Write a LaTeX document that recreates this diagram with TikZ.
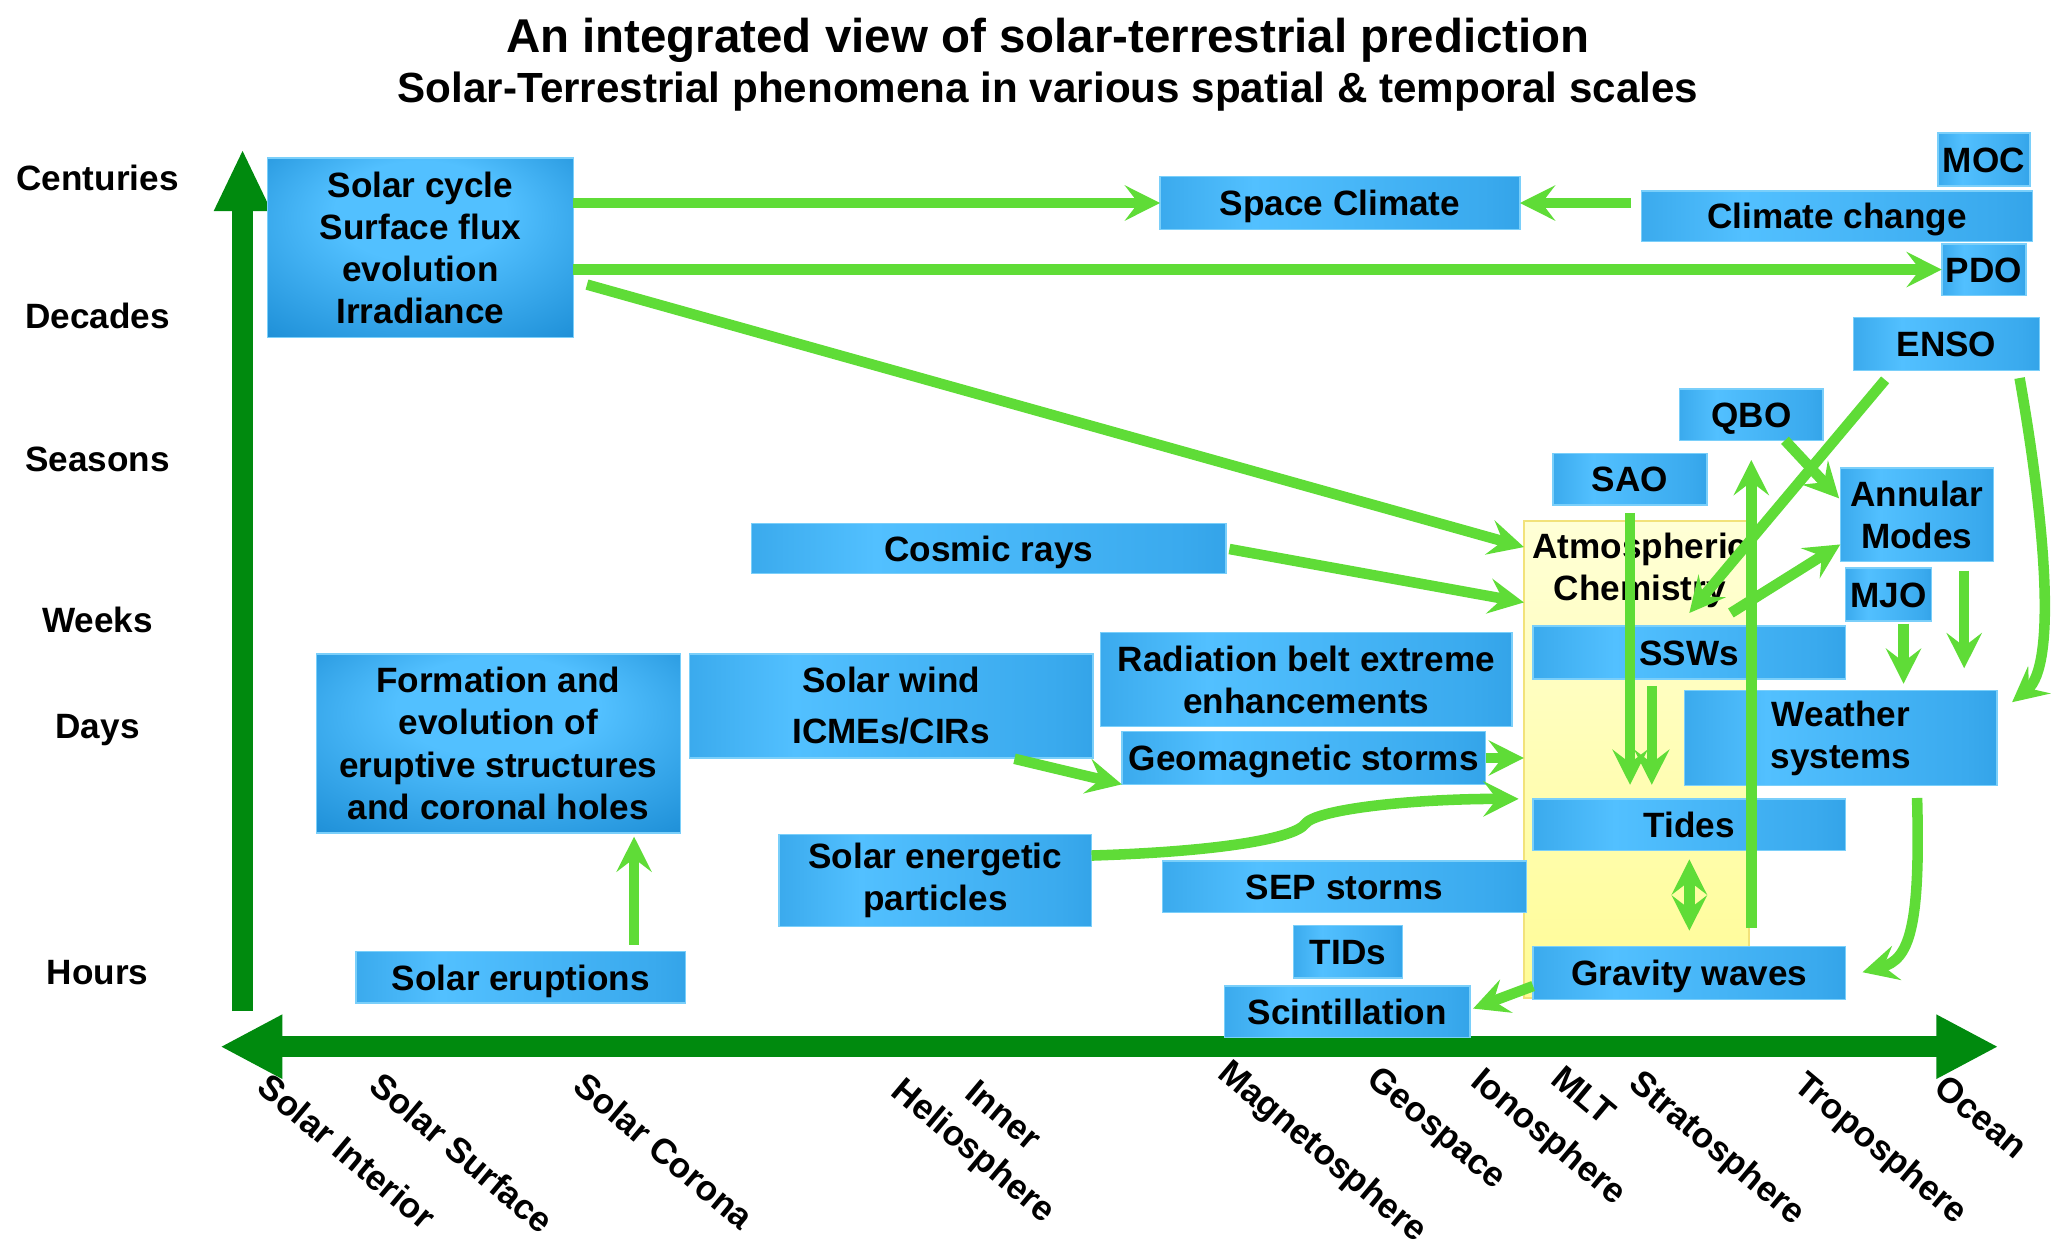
\documentclass[tikz,border=0pt]{standalone}
\usepackage{fontspec}
\setmainfont{Liberation Sans}
\usepackage{xcolor}
\usepackage{tikz}
\usetikzlibrary{calc,arrows.meta}
\definecolor{bdark}{HTML}{0872BA}
\definecolor{bmid}{HTML}{2394DB}
\definecolor{bsoft}{HTML}{3AAAEE}
\definecolor{blight}{HTML}{52C0FF}
\definecolor{bedge}{HTML}{7ACFFA}
\definecolor{lgreen}{HTML}{5FDC37}
\definecolor{dgreen}{HTML}{008A0E}
\definecolor{chemtop}{HTML}{FFFFD6}
\definecolor{chembot}{HTML}{FFFC96}
\definecolor{chemedge}{HTML}{F2E27A}
\pgfdeclarehorizontalshading{blkshade}{100bp}{color(0bp)=(bdark); color(12bp)=(bmid); color(38bp)=(blight); color(70bp)=(bsoft); color(88bp)=(bmid); color(100bp)=(bdark)}
\pgfdeclareradialshading{blkdisc}{\pgfpoint{0bp}{14bp}}{color(0bp)=(blight); color(14bp)=(blight); color(36bp)=(bmid); color(52bp)=(bdark)}
\tikzset{
  blk/.style={shade, shading=blkshade, draw=bedge, line width=0.4pt, inner sep=0pt, outer sep=0pt, align=center, font=\bfseries, text=black},
  blkr/.style={blk, shading=blkdisc},
  one/.style={text height=7.2pt, text depth=0pt},
  sz/.style 2 args={minimum width=#1*0.375pt, minimum height=#2*0.375pt},
  chem/.style={top color=chemtop, bottom color=chembot, draw=chemedge, line width=0.5pt, inner sep=0pt, outer sep=0pt},
  flow/.style={draw=lgreen, line width=3pt, -{Stealth[length=10pt,width=10pt,inset=3.8pt]}},
  both/.style={{Stealth[length=10pt,width=10pt,inset=3.8pt]}-{Stealth[length=10pt,width=10pt,inset=3.8pt]}},
  axisline/.style={draw=dgreen, line width=6pt},
  lab/.style={font=\bfseries, text=black, inner sep=0pt},
  region/.style={lab, rotate=-40, anchor=north west},
}

\begin{document}
\begin{tikzpicture}[x=0.375pt, y=-0.375pt]
  \useasboundingbox (0,0) rectangle (1568,953);
  \node[lab, font=\fontsize{13.5}{16}\selectfont\bfseries, anchor=base] (title) at (795,39.5) {An integrated view of solar-terrestrial prediction};
  \node[lab, font=\fontsize{12}{14}\selectfont\bfseries, anchor=base] (subtitle) at (795,77.6) {Solar-Terrestrial phenomena in various spatial \& temporal scales};

  \foreach \t/\y [count=\i] in {Centuries/144.5, Decades/249.5, Seasons/357.5, Weeks/479.5, Days/560.5, Hours/747}
    \node[lab, anchor=base] (tscale\i) at (74,\y) {\t};
  \foreach \t/\x/\y [count=\i] in {Solar Interior/206/812, Solar Surface/291/811, Solar Corona/446/811, Magnetosphere/935/801, Geospace/1048/806, Ionosphere/1127/807, MLT/1187/806, Stratosphere/1247/809, Troposphere/1372/810, Ocean/1478/813}
    \node[region] (region\i) at (\x,\y) {\t};
  \node[region, align=center, font=\fontsize{10}{13}\selectfont\bfseries] (inner) at (709,789) {Inner\\Heliosphere};

  \coordinate (ybot) at (184,767);
  \coordinate (ytop) at (184,113);
  \coordinate (xleft) at (167,794);
  \coordinate (xright) at (1516,794);
  \draw[axisline, -{Triangle[length=17.7pt,width=15pt]}] (ybot) -- (ytop);
  \draw[axisline, {Triangle[length=17.7pt,width=17pt]}-{Triangle[length=17.7pt,width=17pt]}] (xleft) -- (xright);

  \node[chem, sz={171}{362}] (atmchem) at (1241.5,576) {};
  \node[lab, align=center] (chemlabel) at (1244,433) {Atmospheric\\Chemistry};

  \node[blkr, sz={232}{136}] (solarcycle) at (319,188) {Solar cycle\\Surface flux\\evolution\\Irradiance};
  \node[blk, one, sz={273}{40}] (spaceclimate) at (1016.5,154) {Space Climate};
  \node[blk, one, sz={70}{40}] (moc) at (1505,121) {MOC};
  \node[blk, one, sz={297}{38}] (climatechange) at (1393.5,164) {Climate change};
  \node[blk, one, sz={64}{39}] (pdo) at (1505,204.5) {PDO};
  \node[blk, one, sz={141}{40}] (enso) at (1476.5,261) {ENSO};
  \node[blk, one, sz={109}{39}] (qbo) at (1328.5,314.5) {QBO};
  \node[blk, one, sz={117}{39}] (sao) at (1236.5,363.5) {SAO};
  \node[blk, sz={116}{71}] (annular) at (1454,390.5) {Annular\\Modes};
  \node[blk, one, sz={65}{40}] (mjo) at (1432.5,451) {MJO};
  \node[blk, one, sz={360}{38}] (cosmic) at (750,416) {Cosmic rays};
  \node[blk, one, sz={237}{40}] (ssws) at (1281.5,495) {SSWs};
  \node[blkr, sz={276}{136}] (formation) at (378,564) {Formation and\\evolution of\\eruptive structures\\and coronal holes};
  \node[blk, sz={306}{79}] (solarwind) at (676,535.5) {Solar wind\\[2.6pt]ICMEs/CIRs};
  \node[blk, sz={312}{71}] (radbelt) at (991,515.5) {Radiation belt extreme\\enhancements};
  \node[blk, one, sz={276}{40}] (geomag) at (989,575) {Geomagnetic storms};
  \node[blk, sz={237}{70}] (spe) at (709.5,668) {Solar energetic\\particles};
  \node[blk, one, sz={276}{39}] (sepstorms) at (1020,672.5) {SEP storms};
  \node[blk, one, sz={83}{40}] (tids) at (1022.5,722) {TIDs};
  \node[blk, one, sz={186}{39}] (scint) at (1022,767.5) {Scintillation};
  \node[blk, sz={237}{72}] (weather) at (1396.5,560) {Weather\\systems};
  \node[blk, one, sz={237}{39}] (tides) at (1281.5,625.5) {Tides};
  \node[blk, one, sz={237}{40}] (gravity) at (1281.5,738) {Gravity waves};
  \node[blk, one, sz={250}{39}] (eruptions) at (395,741.5) {Solar eruptions};

  \draw[flow] (solarcycle.east |- spaceclimate.west) -- (spaceclimate.west);
  \draw[flow, shorten <=3pt] (climatechange.west |- spaceclimate.east) -- (spaceclimate.east);
  \draw[flow] (solarcycle.east |- pdo.west) -- (pdo.west);
  \draw[flow, shorten <=4pt] (solarcycle.east |- 0,213) -- (atmchem.west |- 0,415);
  \draw[flow, shorten <=1pt] (cosmic.east) -- (atmchem.west |- 0,457);
  \draw[flow, shorten <=3.5pt] (1436,0 |- enso.south) -- ($(ssws.north)+(0,-10)$);
  \draw[flow, shorten >=0.5pt] (1354,0 |- qbo.south) -- (annular.west |- 0,379);
  \draw[flow, shorten <=5.2pt, shorten >=5.6pt] (gravity.north -| qbo.south) -- (qbo.south);
  \draw[flow] ($(ssws.north)+(31.5,-10)$) -- (annular.west |- 0,413);
  \draw[flow, shorten <=2.3pt, shorten >=4pt] (sao.south) -- (sao.south |- tides.north);
  \draw[flow, shorten <=2pt, shorten >=4pt] (1253,0 |- ssws.south) -- (1253,0 |- tides.north);
  \draw[flow, both, shorten <=2.6pt, shorten >=4.5pt] (tides.south) -- (gravity.north);
  \draw[flow, shorten <=0.8pt, shorten >=2pt] (1444,0 |- mjo.south) -- (1444,0 |- weather.north);
  \draw[flow, shorten <=2.6pt, shorten >=6.4pt] (1490,0 |- annular.south) -- (1490,0 |- weather.north);
  \draw[flow, shorten <=2.2pt, shorten >=5.5pt] (1531,0 |- enso.south) .. controls (1552,400) and (1560,505) .. (weather.east |- 0,542);
  \draw[flow, shorten <=3.5pt, shorten >=5pt] (1454,0 |- weather.south) .. controls (1457,705) and (1448,728) .. (gravity.east |- 0,741);
  \draw[flow, shorten >=1pt] (gravity.west |- 0,748) -- (scint.east |- 0,766);
  \draw[flow, shorten <=1pt] (767,0 |- solarwind.south) -- (geomag.south west);
  \draw[flow] (geomag.east) -- (geomag.east -| atmchem.west);
  \draw[flow, shorten >=1.5pt] (spe.east |- 0,649) .. controls (925,646) and (982,636) .. (990,625) .. controls (998,614) and (1070,606) .. (atmchem.west |- 0,606);
  \draw[flow, shorten <=2pt, shorten >=1pt] (481,0 |- eruptions.north) -- (481,0 |- formation.south);
\end{tikzpicture}
\end{document}
